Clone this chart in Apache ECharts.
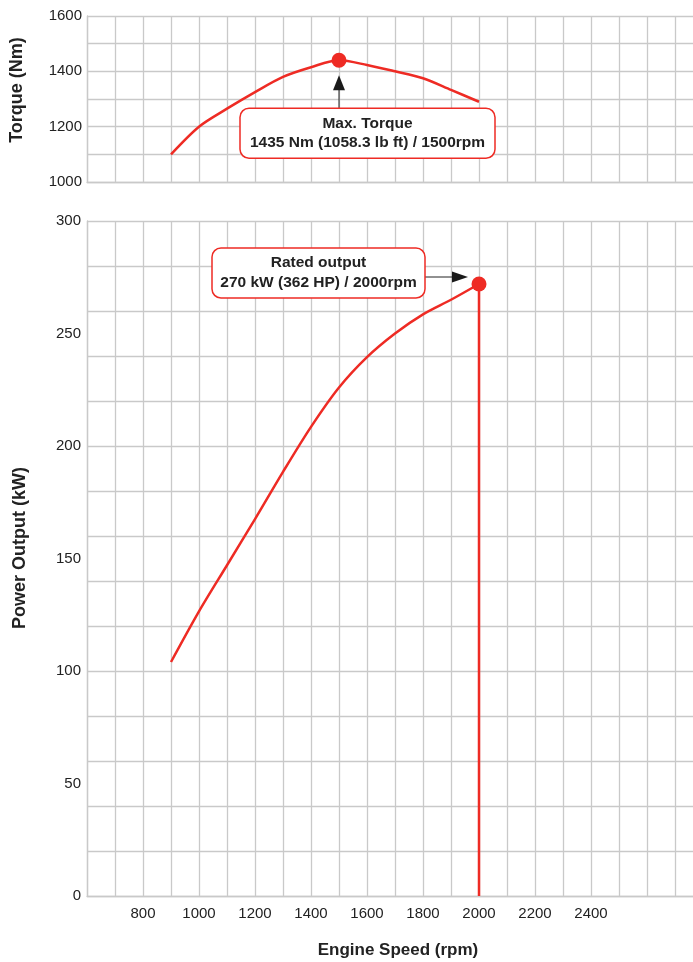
<!DOCTYPE html>
<html>
<head>
<meta charset="utf-8">
<script src="https://cdn.jsdelivr.net/npm/echarts/dist/echarts.min.js"></script>
<style>
html,body{margin:0;padding:0;background:#ffffff;}
#c{width:693px;height:962px;}
</style>
</head>
<body>
<div id="c"></div>
<script>
// ---- data ----
const rpm = [900, 1000, 1100, 1200, 1300, 1400, 1500, 1600, 1700, 1800, 1900, 2000];
const torque = [1100, 1200, 1265, 1325, 1380, 1415, 1440, 1423, 1400, 1375, 1333, 1290];
const power = [104, 126.5, 147, 167.5, 188.5, 208.5, 226, 239.5, 250, 258.5, 265, 272];
const xTickLabels = [800, 1000, 1200, 1400, 1600, 1800, 2000, 2200, 2400];
const torqueTickLabels = [1000, 1200, 1400, 1600];
const powerTickLabels = [0, 50, 100, 150, 200, 250, 300];
const maxTorqueRpm = 1500;
const ratedRpm = 2000;
const maxTorqueText = ['Max. Torque', '1435 Nm (1058.3 lb ft) / 1500rpm'];
const ratedText = ['Rated output', '270 kW (362 HP) / 2000rpm'];
const titles = { torque: 'Torque (Nm)', power: 'Power Output (kW)', speed: 'Engine Speed (rpm)' };

// ---- style ----
const RED = '#ee2b24';
const GRID = '#c9c9c9';
const TXT = '#222222';
const FONT = '"Liberation Sans", Arial, Helvetica, sans-serif';

const chart = echarts.init(document.getElementById('c'), null, { renderer: 'canvas' });

const splitLine = { show: true, lineStyle: { color: GRID, width: 1.3 } };
const axisLine = { show: true, lineStyle: { color: GRID, width: 1.3 } };

const peakTorque = torque[rpm.indexOf(maxTorqueRpm)];
const ratedPower = power[rpm.indexOf(ratedRpm)];

chart.setOption({
  animation: false,
  backgroundColor: '#ffffff',
  grid: [
    { left: 87, top: 16, right: -10, bottom: 780, containLabel: false, outerBoundsMode: 'none' },
    { left: 87, top: 221, right: -10, bottom: 66, containLabel: false, outerBoundsMode: 'none' }
  ],
  xAxis: [
    { type: 'value', gridIndex: 0, min: 600, max: 2800, interval: 100,
      axisLine: axisLine, axisTick: { show: false }, axisLabel: { show: false }, splitLine: splitLine },
    { type: 'value', gridIndex: 1, min: 600, max: 2800, interval: 100,
      axisLine: axisLine, axisTick: { show: false }, splitLine: splitLine,
      axisLabel: { show: true, color: TXT, fontSize: 15, fontFamily: FONT, margin: 10,
        formatter: v => xTickLabels.indexOf(v) >= 0 ? String(v) : '' } }
  ],
  yAxis: [
    { type: 'value', gridIndex: 0, min: 1000, max: 1600, interval: 100,
      axisLine: axisLine, axisTick: { show: false }, splitLine: splitLine,
      axisLabel: { color: TXT, fontSize: 15, fontFamily: FONT, margin: 5,
        formatter: v => torqueTickLabels.indexOf(v) >= 0 ? String(v) : '' } },
    { type: 'value', gridIndex: 1, min: 0, max: 300, interval: 20,
      axisLine: axisLine, axisTick: { show: false }, splitLine: splitLine,
      axisLabel: { show: false } },
    { type: 'value', gridIndex: 1, min: 0, max: 300, interval: 50, position: 'left',
      axisLine: { show: false }, axisTick: { show: false }, splitLine: { show: false },
      axisLabel: { color: TXT, fontSize: 15, fontFamily: FONT, margin: 6,
        formatter: v => powerTickLabels.indexOf(v) >= 0 ? String(v) : '' } }
  ],
  series: [
    { type: 'line', xAxisIndex: 0, yAxisIndex: 0, data: rpm.map((r, i) => [r, torque[i]]),
      symbol: 'none', smooth: 0.3, lineStyle: { color: RED, width: 2.5 }, z: 3 },
    { type: 'scatter', xAxisIndex: 0, yAxisIndex: 0, data: [[maxTorqueRpm, peakTorque]],
      symbolSize: 15, itemStyle: { color: RED, opacity: 1 }, z: 4 },
    { type: 'line', xAxisIndex: 1, yAxisIndex: 1, data: rpm.map((r, i) => [r, power[i]]),
      symbol: 'none', smooth: 0.3, lineStyle: { color: RED, width: 2.5 }, z: 3 },
    { type: 'line', xAxisIndex: 1, yAxisIndex: 1, data: [[ratedRpm, 0], [ratedRpm, ratedPower]],
      symbol: 'none', lineStyle: { color: RED, width: 2.5 }, z: 3 },
    { type: 'scatter', xAxisIndex: 1, yAxisIndex: 1, data: [[ratedRpm, ratedPower]],
      symbolSize: 15, itemStyle: { color: RED, opacity: 1 }, z: 4 }
  ]
});

function box(x, y, w, h, lines) {
  const els = [
    { type: 'rect', shape: { x: x, y: y, width: w, height: h, r: 9 },
      style: { fill: '#ffffff', stroke: RED, lineWidth: 1.5 }, z: 10 }
  ];
  lines.forEach((t, i) => {
    els.push({ type: 'text', x: x + w / 2, y: y + 15 + i * 19.5, z: 11,
      style: { text: t, fill: TXT, font: 'bold 15.5px ' + FONT, textAlign: 'center', textVerticalAlign: 'middle' } });
  });
  return els;
}

const p = chart.convertToPixel({ xAxisIndex: 0, yAxisIndex: 0 }, [maxTorqueRpm, peakTorque]);
const q = chart.convertToPixel({ xAxisIndex: 1, yAxisIndex: 1 }, [ratedRpm, ratedPower]);

let g = [];
// torque annotation
g = g.concat(box(p[0] - 99, p[1] + 48, 255, 50, maxTorqueText));
g.push({ type: 'line', z: 9, shape: { x1: p[0], y1: p[1] + 48, x2: p[0], y2: p[1] + 28 }, style: { stroke: '#222', lineWidth: 1 } });
g.push({ type: 'polygon', z: 9, shape: { points: [[p[0], p[1] + 15], [p[0] - 6, p[1] + 30], [p[0] + 6, p[1] + 30]] }, style: { fill: '#1a1a1a' } });
// rated annotation
g = g.concat(box(q[0] - 267, q[1] - 36, 213, 50, ratedText));
g.push({ type: 'line', z: 9, shape: { x1: q[0] - 54, y1: q[1] - 7, x2: q[0] - 25, y2: q[1] - 7 }, style: { stroke: '#222', lineWidth: 1 } });
g.push({ type: 'polygon', z: 9, shape: { points: [[q[0] - 11, q[1] - 7], [q[0] - 27, q[1] - 12.5], [q[0] - 27, q[1] - 1.5]] }, style: { fill: '#1a1a1a' } });
// axis titles
g.push({ type: 'text', x: 17, y: 90, rotation: Math.PI / 2, z: 5,
  style: { text: titles.torque, fill: TXT, font: 'bold 18px ' + FONT, textAlign: 'center', textVerticalAlign: 'middle' } });
g.push({ type: 'text', x: 20, y: 548, rotation: Math.PI / 2, z: 5,
  style: { text: titles.power, fill: TXT, font: 'bold 18px ' + FONT, textAlign: 'center', textVerticalAlign: 'middle' } });
g.push({ type: 'text', x: 398, y: 950, z: 5,
  style: { text: titles.speed, fill: TXT, font: 'bold 17px ' + FONT, textAlign: 'center', textVerticalAlign: 'middle' } });

chart.setOption({ graphic: g });
</script>
</body>
</html>
